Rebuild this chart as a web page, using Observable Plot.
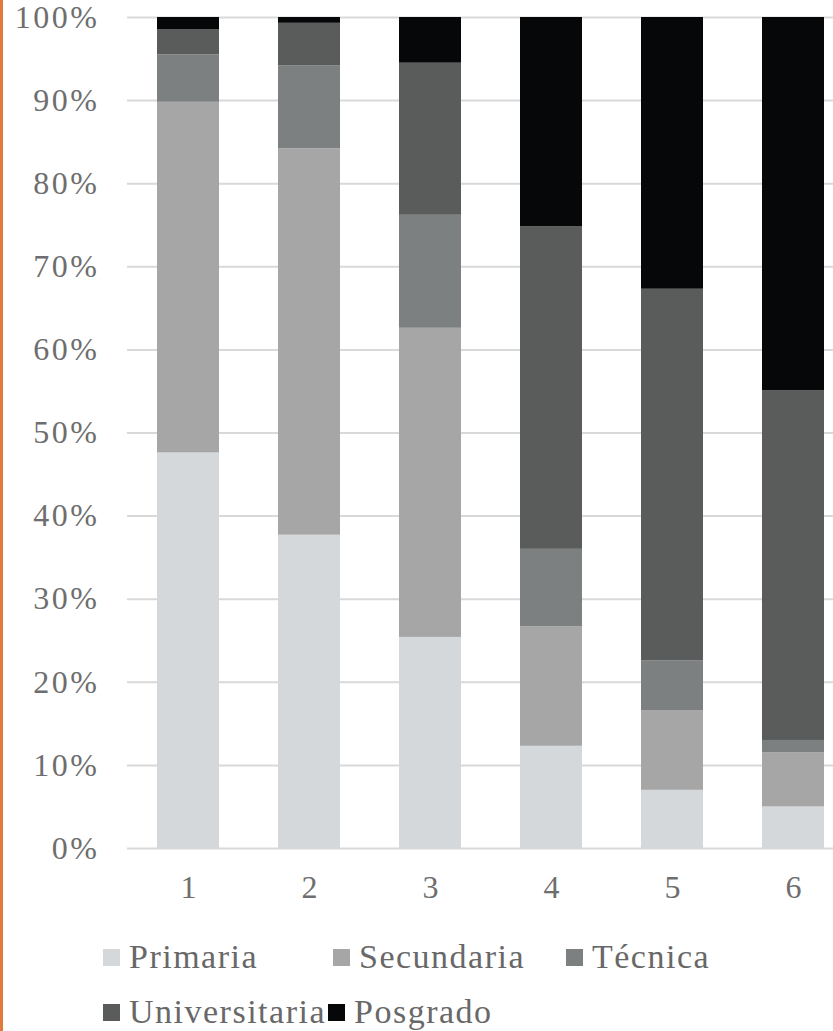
<!DOCTYPE html>
<html>
<head>
<meta charset="utf-8">
<script src="https://cdn.jsdelivr.net/npm/d3@7"></script>
<script src="https://cdn.jsdelivr.net/npm/@observablehq/plot@0.6"></script>
<style>
  html, body { margin: 0; padding: 0; background: #fff; }
  body { width: 833px; height: 1031px; overflow: hidden; position: relative; font-family: "Liberation Serif", "Times New Roman", serif; }
  #orange { position: absolute; left: 0; top: 0; width: 3px; height: 1031px; background: #e07b39; z-index: 5; }
  #chart { position: absolute; left: 0; top: 0; z-index: 1; }
  #chart svg g[aria-label="y-axis tick label"] text { letter-spacing: 2.5px; }
  #chart svg g[aria-label="x-axis tick label"] text { letter-spacing: 0px; }
  .legend-item { position: absolute; display: flex; align-items: center; font-size: 34px; color: #686868; letter-spacing: 1.5px; white-space: nowrap; z-index: 2; }
  .swatch { width: 17px; height: 17px; margin-right: 9px; display: inline-block; }
</style>
</head>
<body>
<div id="chart"></div>
<div id="legend"></div>
<div id="orange"></div>
<script>
const categories = ["1", "2", "3", "4", "5", "6"];
const series = ["Primaria", "Secundaria", "Técnica", "Universitaria", "Posgrado"];
const colors = ["#d5d8db", "#a6a6a6", "#7d8081", "#595c5b", "#050708"];
const primaria      = [47.6, 37.7, 25.4, 12.3, 7.0, 5.0];
const secundaria    = [42.2, 46.5, 37.2, 14.4, 9.6, 6.5];
const tecnica       = [5.7, 10.0, 13.6, 9.3, 6.0, 1.5];
const universitaria = [3.0, 5.1, 18.3, 38.8, 44.7, 42.1];
const posgrado      = [1.5, 0.7, 5.5, 25.2, 32.7, 44.9];
const yTicks = [0, 10, 20, 30, 40, 50, 60, 70, 80, 90, 100];

const values = [primaria, secundaria, tecnica, universitaria, posgrado];
const data = [];
series.forEach((s, si) => categories.forEach((c, ci) => data.push({cat: c, serie: s, value: values[si][ci]})));

const chart = Plot.plot({
  width: 833,
  height: 920,
  marginLeft: 127,
  marginRight: 0,
  marginTop: 17,
  marginBottom: 72,
  style: {fontFamily: "'Liberation Serif', 'Times New Roman', serif", fontSize: "32px", background: "white"},
  x: {type: "band", domain: categories, range: [127, 853], paddingInner: 0.49, paddingOuter: 0.245, label: null},
  y: {domain: [0, 100], label: null},
  color: {domain: series, range: colors},
  marks: [
    Plot.ruleY(yTicks, {stroke: "#d9d9d9", strokeWidth: 2}),
    Plot.barY(data, {x: "cat", y: "value", fill: "serie", order: series}),
    Plot.axisY(yTicks, {tickSize: 0, tickPadding: 28, tickFormat: d => d + "%", fill: "#6e6e6e", fontSize: 32, label: null}),
    Plot.axisX({tickSize: 0, tickPadding: 27, fill: "#6e6e6e", fontSize: 32, label: null})
  ]
});
document.getElementById("chart").appendChild(chart);

const legendPos = [
  {left: 103, top: 957}, {left: 333, top: 957}, {left: 566, top: 957},
  {left: 103, top: 1012}, {left: 328, top: 1012}
];
const legend = document.getElementById("legend");
series.forEach((s, i) => {
  const item = document.createElement("div");
  item.className = "legend-item";
  item.style.left = legendPos[i].left + "px";
  item.style.top = (legendPos[i].top - 22) + "px";
  item.style.height = "44px";
  const sw = document.createElement("span");
  sw.className = "swatch";
  sw.style.background = colors[i];
  item.appendChild(sw);
  item.appendChild(document.createTextNode(s));
  legend.appendChild(item);
});
</script>
</body>
</html>
